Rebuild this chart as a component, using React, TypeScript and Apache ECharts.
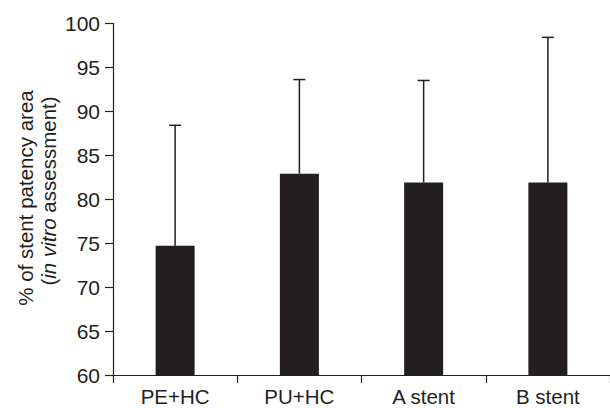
import React, { useEffect, useRef } from "react";
import * as echarts from "echarts";

const categories = ["PE+HC", "PU+HC", "A stent", "B stent"];
const means = [74.7, 82.9, 81.9, 81.9];
const upperErrors = [88.4, 93.6, 93.5, 98.4];
const yTicks = { min: 60, max: 100, interval: 5 };

const INK = "#231f20";
const FONT = "'Liberation Sans', Arial, sans-serif";

export default function App() {
  const ref = useRef<HTMLDivElement>(null);
  useEffect(() => {
    if (!ref.current) return;
    const chart = echarts.init(ref.current, undefined, { renderer: "svg" });
    const errData = categories.map((_, i) => [i, means[i], upperErrors[i]]);
    chart.setOption({
      animation: false,
      backgroundColor: "#ffffff",
      grid: { left: 113, right: -2, top: 23.3, bottom: 33, containLabel: false },
      xAxis: {
        type: "category",
        data: categories,
        boundaryGap: true,
        axisLine: { show: true, lineStyle: { color: INK, width: 1.2 } },
        axisTick: { show: true, inside: false, length: 8, alignWithLabel: false, lineStyle: { color: INK, width: 1.2 } },
        axisLabel: { color: INK, fontSize: 20.5, fontFamily: FONT, margin: 11 },
        splitLine: { show: false },
      },
      yAxis: {
        type: "value",
        min: yTicks.min,
        max: yTicks.max,
        interval: yTicks.interval,
        axisLine: { show: true, lineStyle: { color: INK, width: 1.2 } },
        axisTick: { show: true, length: 8, lineStyle: { color: INK, width: 1.2 } },
        axisLabel: { color: INK, fontSize: 21, fontFamily: FONT, margin: 13 },
        splitLine: { show: false },
      },
      graphic: [
        {
          type: "text",
          x: 25,
          y: 198,
          rotation: Math.PI / 2,
          style: {
            text: "% of stent patency area",
            fill: INK,
            fontSize: 20.5,
            fontFamily: FONT,
            textAlign: "center",
            textVerticalAlign: "middle",
          },
        },
        {
          type: "text",
          x: 48,
          y: 191,
          rotation: Math.PI / 2,
          style: {
            text: "{n|(}{i|in vitro}{n| assessment)}",
            fill: INK,
            fontSize: 20.5,
            fontFamily: FONT,
            textAlign: "center",
            textVerticalAlign: "middle",
            rich: {
              n: { fontSize: 20.5, fontFamily: FONT, fill: INK },
              i: { fontSize: 20.5, fontFamily: FONT, fontStyle: "italic", fill: INK },
            },
          },
        },
      ],
      series: [
        {
          type: "bar",
          data: means,
          barWidth: 39,
          itemStyle: { color: INK },
          z: 2,
        },
        {
          type: "custom",
          data: errData,
          z: 1,
          renderItem: (params: any, api: any) => {
            const x = api.value(0);
            const lo = api.coord([x, api.value(1)]);
            const hi = api.coord([x, api.value(2)]);
            const cap = 6;
            const style = { stroke: INK, lineWidth: 1.5 };
            return {
              type: "group",
              children: [
                { type: "line", shape: { x1: lo[0], y1: lo[1], x2: hi[0], y2: hi[1] }, style },
                { type: "line", shape: { x1: hi[0] - cap, y1: hi[1], x2: hi[0] + cap, y2: hi[1] }, style },
              ],
            };
          },
        },
      ],
    });
    return () => chart.dispose();
  }, []);
  return <div ref={ref} style={{ width: 610, height: 408, position: "absolute", left: 0, top: 0 }} />;
}
